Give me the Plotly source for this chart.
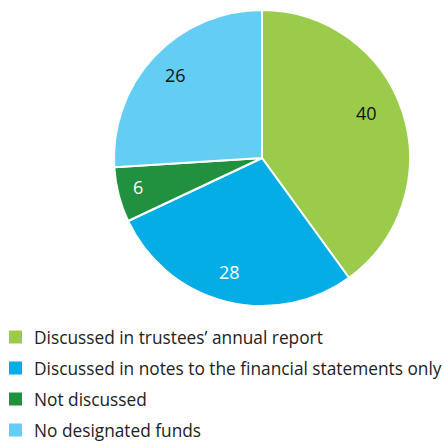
import math
import plotly.graph_objects as go

categories = [
    "Discussed in trustees\u2019 annual report",
    "Discussed in notes to the financial statements only",
    "Not discussed",
    "No designated funds",
]
values = [40, 28, 6, 26]
colors = ["#9BCB4B", "#05ADE6", "#22913F", "#63CDF4"]
text_colors = ["#111111", "#FFFFFF", "#FFFFFF", "#111111"]
label_radius = [0.77, 0.80, 0.86, 0.81]  # fraction of the pie radius for each value label
label_shift_deg = [-5.4, 1.3, 1.3, 0.5]  # nudge from each slice's mid-angle

W, H = 443, 441
cx, cy, r = 262, 158, 148
FONT = "Open Sans"

fig = go.Figure(
    go.Pie(
        labels=categories,
        values=values,
        sort=False,
        direction="clockwise",
        rotation=0,
        marker=dict(colors=colors, line=dict(color="white", width=2)),
        textinfo="none",
        domain=dict(x=[(cx - r) / W, (cx + r) / W], y=[1 - (cy + r) / H, 1 - (cy - r) / H]),
        showlegend=False,
        hoverinfo="label+value",
    )
)

annotations, shapes = [], []

# Value labels near each slice's mid-angle
total = sum(values)
cum = 0
for v, tc, fr, sh in zip(values, text_colors, label_radius, label_shift_deg):
    mid = (cum + v / 2) / total * 2 * math.pi + math.radians(sh)
    cum += v
    px = cx + fr * r * math.sin(mid)
    py = cy - fr * r * math.cos(mid)
    annotations.append(dict(text=str(v), xref="paper", yref="paper", x=px / W, y=1 - py / H,
                            xanchor="center", yanchor="middle", showarrow=False,
                            font=dict(size=18, color=tc, family=FONT)))

# Legend drawn as swatches plus labels below the pie
row0, step = 337, 31
for i, (lab, col) in enumerate(zip(categories, colors)):
    yc = row0 + i * step
    shapes.append(dict(type="rect", xref="paper", yref="paper",
                       x0=9 / W, x1=22 / W, y0=1 - (yc + 6.5) / H, y1=1 - (yc - 6.5) / H,
                       fillcolor=col, line=dict(width=0)))
    annotations.append(dict(text=lab, xref="paper", yref="paper", x=32 / W, y=1 - yc / H,
                            xanchor="left", yanchor="middle", showarrow=False,
                            font=dict(size=17.3, color="#222222", family=FONT)))

fig.update_layout(
    width=W, height=H, margin=dict(l=0, r=0, t=0, b=0),
    paper_bgcolor="white", plot_bgcolor="white",
    shapes=shapes, annotations=annotations,
)
fig.write_html("out.html")
